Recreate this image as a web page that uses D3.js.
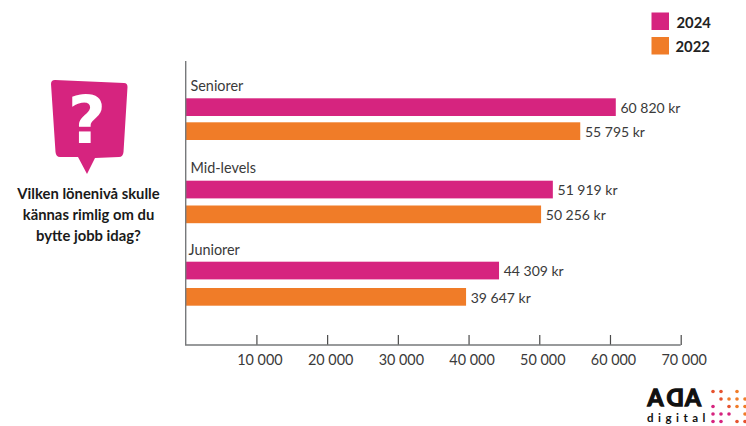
<!DOCTYPE html>
<html>
<head>
    <script src="https://d3js.org/d3.v7.min.js"></script>
    <style>
        html, body { margin:0; background:#fff; }
        svg { display:block; }
        text { font-family:Lato, sans-serif; fill:#333; }
        .axis path { stroke:#77797b; stroke-width:1.4; }
        .axis line { stroke:#4a4a4a; stroke-width:1.2; }
        .axis text { font-size:14.4px; fill:#3a3a3a; }
        .value { font-size:14px; fill:#3a3a3a; }
        .group { font-size:14.4px; fill:#3a3a3a; }
        .question { font-size:14.8px; font-weight:700; fill:#1a1a1a; text-anchor:middle; }
        .legend { font-size:14.8px; font-weight:700; fill:#222; }
    </style>
</head>
<body>
    <script>
        var groups = ["Seniorer", "Mid-levels", "Juniorer"];
        var years = ["2024", "2022"];
        var values2024 = [60820, 51919, 44309];
        var values2022 = [55795, 50256, 39647];
        var tickValues = [10000, 20000, 30000, 40000, 50000, 60000, 70000];
        var questionLines = ["Vilken lönenivå skulle", "kännas rimlig om du", "bytte jobb idag?"];
        var colors = ["#d6247f", "#f07c28", "#e6532f"];

        // logo dots: column, row, colour index
        var logoDots = [
            [0,0,2],[1,0,2],[3,0,1],
            [1,1,2],[2,1,1],[3,1,1],[4,1,1],
            [0,2,0],[2,2,2],[3,2,1],[4,2,1],
            [0,3,0],[1,3,0],[2,3,0],[4,3,1],
            [0,4,0],[1,4,0],[3,4,2],[4,4,2]
        ];

        function sv(n) { return d3.format(",")(n).replace(/,/g, " "); }

        var svg = d3.select("body").append("svg")
                    .attr("width", 746).attr("height", 426);

        var x = d3.scaleLinear().domain([0, 70000]).range([185.7, 680.7]);
        // rows in the picture are not evenly spaced
        var rowY = {
            "2024": d3.scaleOrdinal().domain(groups).range([98.3, 180.7, 261.7]),
            "2022": d3.scaleOrdinal().domain(groups).range([122.3, 205.5, 288])
        };
        var labelX = d3.scaleOrdinal().domain(groups).range([190.5, 190.5, 188.5]);
        var labelY = d3.scaleOrdinal().domain(groups).range([90.7, 173, 255]);
        var barH = 17.7;

        svg.append("g").selectAll("text")
            .data(groups).enter().append("text")
            .attr("class", "group")
            .attr("x", function(d){ return labelX(d); })
            .attr("y", function(d){ return labelY(d); })
            .text(function(d){ return d; });

        years.forEach(function(year, yi){
            var vals = yi == 0 ? values2024 : values2022;
            svg.append("g").selectAll("rect")
                .data(groups).enter().append("rect")
                .attr("x", x(0))
                .attr("y", function(d){ return rowY[year](d); })
                .attr("height", barH)
                .attr("width", function(d, i){ return x(vals[i]) - x(0); })
                .attr("fill", colors[yi]);
            svg.append("g").selectAll("text")
                .data(groups).enter().append("text")
                .attr("class", "value")
                .attr("x", function(d, i){ return x(vals[i]) + 4.7; })
                .attr("y", function(d){ return rowY[year](d) + 14.5; })
                .text(function(d, i){ return sv(vals[i]) + " kr"; });
        });

        // axis
        var axis = svg.append("g").attr("class", "axis")
                    .attr("transform", "translate(0,345)")
                    .call(d3.axisBottom(x).tickValues(tickValues).tickFormat(sv).tickSize(-10).tickPadding(10));
        axis.select(".domain").remove();
        axis.selectAll("text").attr("dx", 3);
        axis.append("path").attr("fill", "none")
            .attr("d", "M" + x(0) + "," + (61 - 345) + "V0H" + x(70000));

        // legend
        var legend = svg.append("g").selectAll("g")
                    .data(years).enter().append("g")
                    .attr("transform", function(d, i){ return "translate(651.5," + (12.5 + i * 24.5) + ")"; });
        legend.append("rect").attr("width", 17.5).attr("height", 17.5)
            .attr("fill", function(d, i){ return colors[i]; });
        legend.append("text").attr("class", "legend").attr("x", function(d, i){ return 25 - i; }).attr("y", 15)
            .text(function(d){ return d; });

        // question bubble
        svg.append("path").attr("fill", colors[0])
            .attr("d", "M55,80 L124,83 Q127.5,83 127.5,87 L123.5,152 Q123,157 119,157 L95,158 L87,174 L78,157 L60,157 Q56,157 55.5,152 L51,84 Q51,80 55,80 Z");
        svg.append("text").attr("x", 87).attr("y", 143)
            .attr("text-anchor", "middle")
            .style("font-family", "'DejaVu Sans', sans-serif")
            .style("font-size", "66px").style("font-weight", 700).style("fill", "#fff")
            .text("?");
        svg.append("g").selectAll("text")
            .data(questionLines).enter().append("text")
            .attr("class", "question")
            .attr("x", 88.5)
            .attr("y", function(d, i){ return 198.5 + i * 21; })
            .text(function(d){ return d; });

        // logo
        var logo = svg.append("g").style("font-family", "'Liberation Sans', sans-serif").style("font-weight", 700);
        var logoLetters = logo.append("g").style("font-size", "23px");
        logoLetters.append("text").attr("x", 647.5).attr("y", 405.5).text("A");
        logoLetters.append("text").attr("transform", "translate(684,405.5) scale(-1,1)").text("D");
        logoLetters.append("text").attr("x", 685).attr("y", 405.5).text("A");
        logoLetters.selectAll("text").style("fill", "#111").style("stroke", "#111").style("stroke-width", 1.3);
        logo.append("text").attr("x", 647).attr("y", 422).style("font-size", "11.5px").style("letter-spacing", "4.5px").style("fill", "#111").text("digital");
        svg.append("g").selectAll("circle")
            .data(logoDots).enter().append("circle")
            .attr("cx", function(d){ return 713 + d[0] * 8; })
            .attr("cy", function(d){ return 391.5 + d[1] * 7.5; })
            .attr("r", 1.8)
            .attr("fill", function(d){ return colors[d[2]]; });
    </script>
</body>
</html>
